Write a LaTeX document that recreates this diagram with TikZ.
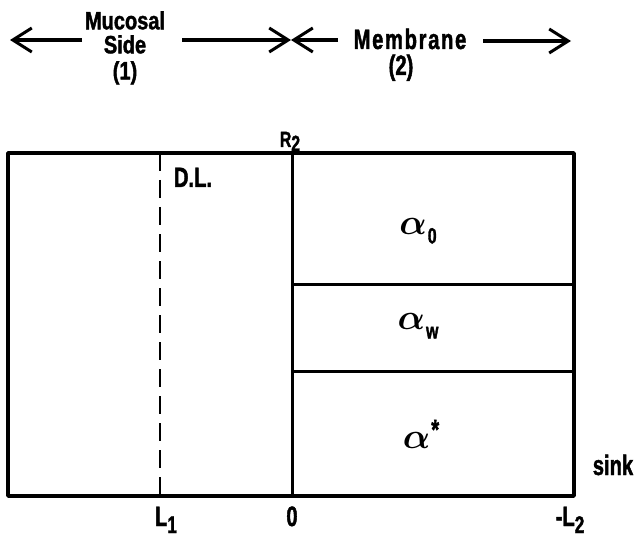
\documentclass[tikz,border=0pt]{standalone}
\usepackage{graphicx}
\usepackage{fontspec}
\newfontfamily\cf{Liberation Sans}[UprightFont=* Bold, FakeStretch=0.72, FakeBold=1.5]
\usetikzlibrary{arrows.meta}
\newcommand{\alf}{\scalebox{1.45}{\boldmath$\alpha$}}
\begin{document}
\begin{tikzpicture}[x=1pt,y=-1pt,
  lbl/.style={font=\cf\fontsize{28}{28}\selectfont, inner sep=0pt, anchor=base},
  small/.style={font=\cf\fontsize{22}{22}\selectfont, inner sep=0pt, anchor=base},
  grk/.style={font=\fontsize{24}{24}\selectfont, inner sep=0pt},
  wall/.style={line width=3.4pt, line join=round},
  inner/.style={line width=3pt},
  arr/.style={line width=3.2pt,-{Straight Barb[length=19pt,width=24pt,line width=3pt]}}]
\useasboundingbox (0,0) rectangle (636,537);
% header
\node[font=\cf\fontsize{25}{24}\selectfont, inner sep=0pt, align=center, anchor=north] (muc) at (125,11) {\addfontfeature{FakeStretch=0.8}Mucosal\\\addfontfeature{FakeStretch=0.8}Side\\[2pt]\addfontfeature{FakeStretch=0.8}(1)};
\node[lbl] (mem) at (410,49) {\addfontfeature{LetterSpace=6}Membrane};
\node[lbl] (two) at (401,75) {(2)};
\coordinate (aL) at (10,40);
\coordinate (aM) at (291,40);
\coordinate (aR) at (571,41);
\draw[arr] (82,40) -- (aL);
\draw[arr] (182,40) -- (aM);
\draw[arr] (338,40) -- (aM);
\draw[arr] (483,41) -- (aR);
% box
\coordinate (tl) at (8,153);
\coordinate (br) at (574,496);
\coordinate (mt) at (292,153);
\coordinate (mb) at (292,496);
\coordinate (d1) at (292,284);
\coordinate (d1r) at (574,284);
\coordinate (d2) at (292,371);
\coordinate (d2r) at (574,371);
\coordinate (dlt) at (160,153);
\coordinate (dlb) at (160,496);
\draw[line width=2.4pt, dash pattern=on 18pt off 9pt] (dlt) -- (dlb);
\draw[inner] (mt) -- (mb);
\draw[inner] (d1) -- (d1r);
\draw[inner] (d2) -- (d2r);
\draw[wall] (tl) rectangle (br);
% labels
\node[small] (r2) at (290,147) {R\raisebox{-4pt}{2}};
\node[lbl] (dl) at (193,187) {D.L.};
\node[grk] (a0) at (418,231) {\alf\kern1pt\raisebox{-9pt}{\cf\fontsize{22}{22}\selectfont 0}};
\node[grk] (aw) at (418,326) {\alf\kern1pt\raisebox{-9pt}{\cf\fontsize{22}{22}\selectfont w}};
\node[grk] (as) at (421,434) {\alf\kern1pt\raisebox{9pt}{\cf\fontsize{28}{28}\selectfont *}};
\node[lbl] (sink) at (613,475) {sink};
\node[lbl] (l1) at (166,526) {L\raisebox{-7pt}{\fontsize{24}{24}\selectfont 1}};
\node[lbl] (zero) at (292,526) {0};
\node[lbl] (l2) at (570,526) {-L\raisebox{-7pt}{\fontsize{24}{24}\selectfont 2}};
\end{tikzpicture}
\end{document}
